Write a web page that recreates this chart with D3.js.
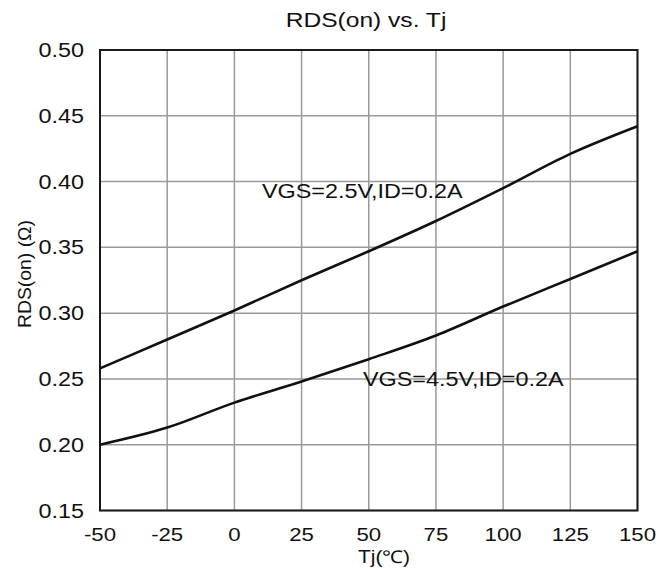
<!DOCTYPE html>
<html>
<head>
<meta charset="utf-8">
<script src="https://cdn.jsdelivr.net/npm/d3@7/dist/d3.min.js"></script>
<style>
  html, body { margin: 0; padding: 0; background: #fff; }
  text { font-family: "Liberation Sans", Arial, sans-serif; fill: #111; }
</style>
</head>
<body>
<div id="chart"></div>
<script>
// values
const tj = [-50, -25, 0, 25, 50, 75, 100, 125, 150];
const rdsVgs25 = [0.258, 0.280, 0.302, 0.325, 0.347, 0.370, 0.395, 0.421, 0.442];
const rdsVgs45 = [0.200, 0.213, 0.232, 0.248, 0.265, 0.283, 0.305, 0.326, 0.347];
const xTicks = [-50, -25, 0, 25, 50, 75, 100, 125, 150];
const yTicks = [0.15, 0.20, 0.25, 0.30, 0.35, 0.40, 0.45, 0.50];
const seriesLabels = ["VGS=2.5V,ID=0.2A", "VGS=4.5V,ID=0.2A"];

const W = 669, H = 569;
const m = { left: 100, right: 31.5, top: 50, bottom: 58.5 };
const sx = 1.2; // text in the source is stretched sideways

const svg = d3.select("#chart").append("svg").attr("width", W).attr("height", H);

const x = d3.scaleLinear().domain([-50, 150]).range([m.left, W - m.right]);
const y = d3.scaleLinear().domain([0.15, 0.50]).range([H - m.bottom, m.top]);

function stext(tx, ty, str, size, anchor) {
    return svg.append("text")
        .attr("transform", `translate(${tx},${ty}) scale(${sx},1)`)
        .attr("text-anchor", anchor || "start")
        .attr("font-size", size)
        .text(str);
}

// grid
svg.append("g").selectAll("line").data(xTicks).enter().append("line")
    .attr("x1", d => x(d)).attr("x2", d => x(d))
    .attr("y1", y(0.15)).attr("y2", y(0.50))
    .attr("stroke", "#9a9a9a").attr("stroke-width", 1.5);
svg.append("g").selectAll("line").data(yTicks).enter().append("line")
    .attr("x1", x(-50)).attr("x2", x(150))
    .attr("y1", d => y(d)).attr("y2", d => y(d))
    .attr("stroke", "#9a9a9a").attr("stroke-width", 1.5);

// frame
svg.append("rect")
    .attr("x", x(-50)).attr("y", y(0.50))
    .attr("width", x(150) - x(-50)).attr("height", y(0.15) - y(0.50))
    .attr("fill", "none").attr("stroke", "#1a1a1a").attr("stroke-width", 2);

// curves
const line = d3.line().x((d, i) => x(tj[i])).y(d => y(d)).curve(d3.curveMonotoneX);
[rdsVgs25, rdsVgs45].forEach(s => {
    svg.append("path").datum(s).attr("d", line)
        .attr("fill", "none").attr("stroke", "#111").attr("stroke-width", 2.6);
});

// tick labels
xTicks.forEach(t => stext(x(t), 541, t, 18.5, "middle"));
yTicks.forEach(t => stext(84, y(t) + 7, t.toFixed(2), 19.5, "end"));

// titles
stext(366, 27, "RDS(on) vs. Tj", 20.5, "middle");
stext(384, 563, "Tj(\u2103)", 17.5, "middle");
svg.append("text")
    .attr("transform", `translate(31,274) scale(${sx},1) rotate(-90)`)
    .attr("text-anchor", "middle").attr("font-size", 16)
    .attr("textLength", 108).attr("lengthAdjust", "spacingAndGlyphs")
    .text("RDS(on) (\u03A9)");

// series labels
stext(262, 198, seriesLabels[0], 19.5);
stext(363, 386, seriesLabels[1], 19.5);
</script>
</body>
</html>
